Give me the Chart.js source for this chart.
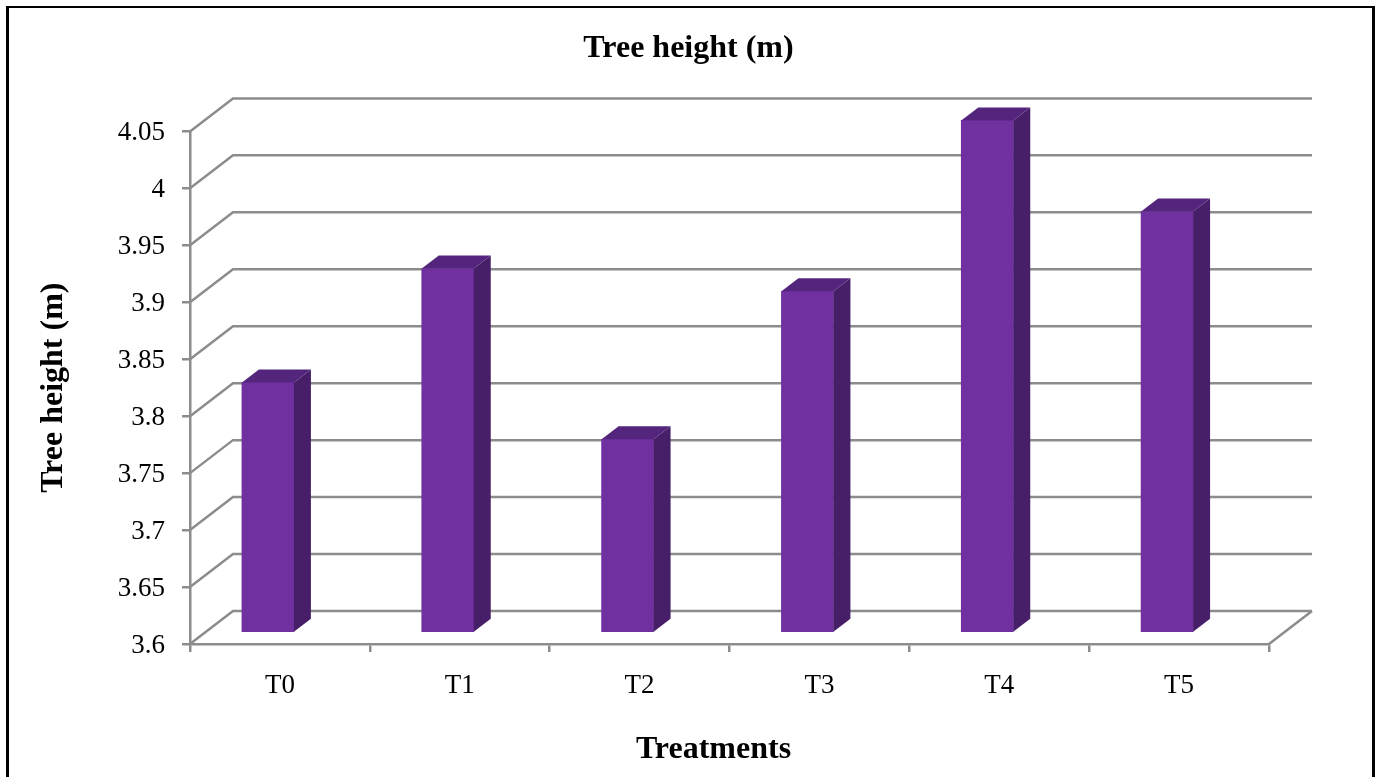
<!DOCTYPE html>
<html>
<head>
<meta charset="utf-8">
<title>Tree height</title>
<script src="https://cdn.jsdelivr.net/npm/chart.js@4"></script>
<style>
    html, body { margin: 0; padding: 0; background: #fff; overflow: hidden; }
    #frame { position: absolute; left: 6px; top: 6px; width: 1363px; height: 800px; border: solid #000; border-width: 2px 3px 0 3px; }
    #chart1 { position: absolute; left: 0; top: 0; }
</style>
</head>
<body>
<div id="frame"></div>
<canvas id="chart1" width="1377" height="777"></canvas>
<script>
const treatments = ['T0', 'T1', 'T2', 'T3', 'T4', 'T5'];
const treeHeight = [3.82, 3.92, 3.77, 3.9, 4.05, 3.97];
const yTickLabels = ['3.6', '3.65', '3.7', '3.75', '3.8', '3.85', '3.9', '3.95', '4', '4.05'];
const yMin = 3.6;
const yMax = 4.05;

const serif = '"Liberation Serif", "Times New Roman", serif';
const gridColor = '#8c8c8c';
const wallDepth = { x: 43, y: -33 };   // back wall offset from the front plane
const barShift = { x: -12, y: -11 };   // bars stand a little behind the front plane
const barDepth = { x: 17, y: -13 };

// Draws the fake 3D: back wall + floor, then the side and top of every bar
const box3d = {
    id: 'box3d',
    beforeDatasetsDraw(chart) {
        const ctx = chart.ctx;
        const area = chart.chartArea;
        const yScale = chart.scales.y;
        ctx.save();
        ctx.strokeStyle = gridColor;
        ctx.lineWidth = 2.5;
        yScale.ticks.forEach((tick) => {
            const y = yScale.getPixelForValue(tick.value);
            ctx.beginPath();
            ctx.moveTo(area.left, y);
            ctx.lineTo(area.left + wallDepth.x, y + wallDepth.y);
            ctx.lineTo(area.right + wallDepth.x, y + wallDepth.y);
            ctx.stroke();
        });
        ctx.beginPath();
        ctx.moveTo(area.right, area.bottom);
        ctx.lineTo(area.right + wallDepth.x, area.bottom + wallDepth.y);
        ctx.stroke();
        ctx.restore();

        ctx.save();
        ctx.translate(barShift.x, barShift.y);
    },
    afterDatasetsDraw(chart) {
        const ctx = chart.ctx;
        chart.getDatasetMeta(0).data.forEach((bar) => {
            const left = bar.x - bar.width / 2;
            const right = bar.x + bar.width / 2;
            ctx.fillStyle = '#471f69';
            ctx.beginPath();
            ctx.moveTo(right, bar.y);
            ctx.lineTo(right + barDepth.x, bar.y + barDepth.y);
            ctx.lineTo(right + barDepth.x, bar.base + barDepth.y);
            ctx.lineTo(right, bar.base);
            ctx.closePath();
            ctx.fill();
            ctx.fillStyle = '#53257c';
            ctx.beginPath();
            ctx.moveTo(left, bar.y);
            ctx.lineTo(left + barDepth.x, bar.y + barDepth.y);
            ctx.lineTo(right + barDepth.x, bar.y + barDepth.y);
            ctx.lineTo(right, bar.y);
            ctx.closePath();
            ctx.fill();
        });
        ctx.restore();
    },
};

new Chart(document.getElementById('chart1'), {
    type: 'bar',
    data: {
        labels: treatments,
        datasets: [{
            label: 'Tree height (m)',
            data: treeHeight,
            backgroundColor: '#7030a0',
            barThickness: 52,
            base: yMin,
            clip: false,
        }],
    },
    options: {
        responsive: false,
        animation: false,
        plugins: {
            legend: { display: false },
            tooltip: { enabled: false },
            title: {
                display: true,
                text: 'Tree height (m)',
                color: '#000',
                font: { family: serif, size: 32, weight: 'bold' },
                padding: { top: 30, bottom: 63 },
            },
        },
        scales: {
            y: {
                min: yMin,
                max: yMax,
                afterFit(scale) { scale.width = 190; },
                title: {
                    display: true,
                    text: 'Tree height (m)',
                    color: '#000',
                    font: { family: serif, size: 32, weight: 'bold' },
                    padding: { top: 35, bottom: 0 },
                },
                ticks: {
                    stepSize: 0.05,
                    color: '#000',
                    font: { family: serif, size: 27 },
                    padding: 17,
                    labelOffset: 2,
                    callback: (value, index) => yTickLabels[index],
                },
                grid: { drawOnChartArea: false, color: gridColor, lineWidth: 2.5, tickLength: 8 },
                border: { display: true, color: gridColor, width: 2.5 },
            },
            // empty axis, only holds the space right of the plot so the title stays centred on the page
            spacer: {
                type: 'linear',
                position: 'right',
                afterFit(scale) { scale.width = 108; },
                ticks: { display: false },
                grid: { display: false },
                border: { display: false },
            },
            x: {
                afterFit(scale) { scale.height = 133; },
                title: {
                    display: true,
                    text: 'Treatments    ',
                    color: '#000',
                    font: { family: serif, size: 32, weight: 'bold' },
                    padding: { top: 0, bottom: 8 },
                },
                ticks: {
                    color: '#000',
                    font: { family: serif, size: 27 },
                    padding: 18,
                    maxRotation: 0,
                },
                grid: { drawOnChartArea: false, offset: true, color: gridColor, lineWidth: 2.5, tickLength: 8 },
                border: { display: true, color: gridColor, width: 2.5 },
            },
        },
    },
    plugins: [box3d],
});
</script>
</body>
</html>
